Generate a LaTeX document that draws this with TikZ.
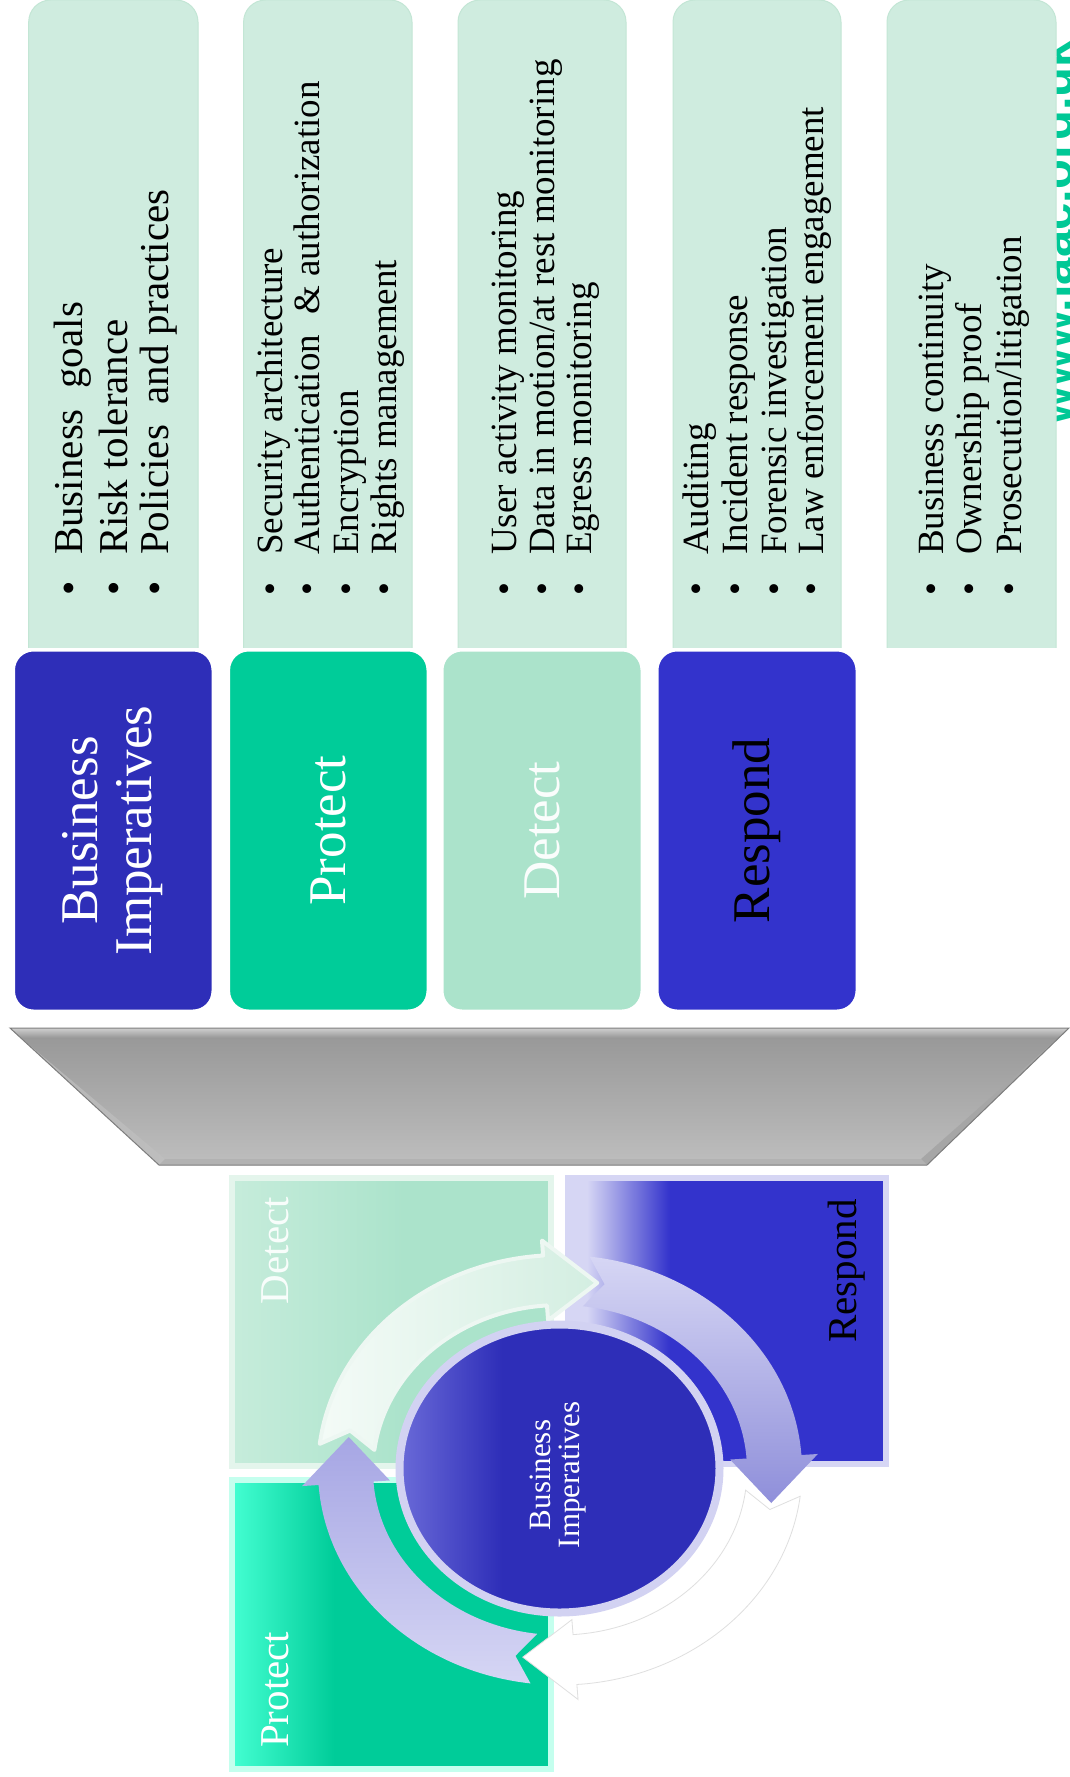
\documentclass[tikz,border=0pt]{standalone}
\usepackage{fontspec}
\setmainfont{Liberation Serif}
\newfontfamily\wmfont{Liberation Sans}
\usetikzlibrary{calc}

\definecolor{mint}{HTML}{CFECDF}
\definecolor{mintedge}{HTML}{C3E6D5}
\definecolor{navy}{HTML}{2E2EB8}
\definecolor{royal}{HTML}{3333CC}
\definecolor{jade}{HTML}{00CC99}
\definecolor{seafoam}{HTML}{ABE3CB}
\definecolor{lav}{HTML}{D6D6F4}
\definecolor{lavdark}{HTML}{8F8FDA}
\definecolor{lavmid}{HTML}{A6A6E4}
\definecolor{wmteal}{HTML}{00C896}
\definecolor{detlight}{HTML}{C6ECDB}
\definecolor{detrim}{HTML}{E4F5EC}
\definecolor{protlight}{HTML}{44FFD2}
\definecolor{protrim}{HTML}{C4FFEE}
\definecolor{ellight}{HTML}{6A6AD8}
\definecolor{ellrim}{HTML}{D2D2F2}
\definecolor{paleA}{HTML}{F4FBF7}
\definecolor{paleB}{HTML}{D3EEE1}
\definecolor{palerim}{HTML}{EDF7F2}
\definecolor{funtop}{HTML}{969696}
\definecolor{funbot}{HTML}{BEBEBE}
\definecolor{funhi}{HTML}{CFCFCF}
\definecolor{funedge}{HTML}{7E7E7E}

\pgfdeclarehorizontalshading{detfade}{100bp}{color(0bp)=(detlight); color(25bp)=(detlight); color(52bp)=(seafoam); color(100bp)=(seafoam)}
\pgfdeclarehorizontalshading{respfade}{100bp}{color(0bp)=(lav); color(28bp)=(lav); color(41bp)=(royal); color(100bp)=(royal)}
\pgfdeclarehorizontalshading{protfade}{100bp}{color(0bp)=(protlight); color(25bp)=(protlight); color(41bp)=(jade); color(100bp)=(jade)}
\pgfdeclarehorizontalshading{ellfade}{100bp}{color(0bp)=(ellight); color(25bp)=(ellight); color(41bp)=(navy); color(100bp)=(navy)}

% one curved arrow of the ring: #1 = start angle (deg), #2 = style
\newcommand\ringarrow[2]{%
  \path[#2] ({560+242*cos(#1)},{1470-215*sin(#1)})
    arc[start angle={-(#1)}, end angle={79-(#1)}, x radius=242, y radius=215]
    -- ({560+258.5*cos(#1-79)},{1470-230*sin(#1-79)})
    -- ({560+214.5*cos(#1-93)},{1470-190*sin(#1-93)})
    -- ({560+170.5*cos(#1-79)},{1470-150*sin(#1-79)})
    -- ({560+187*cos(#1-79)},{1470-165*sin(#1-79)})
    arc[start angle={79-(#1)}, end angle={-(#1)}, x radius=187, y radius=165]
    -- ({560+214.5*cos(#1-5)},{1470-190*sin(#1-5)})
    -- cycle;}

\newcommand\bul{\makebox[41pt][l]{•}}

\begin{document}
\begin{tikzpicture}[x=1pt, y=-1pt,
  panel/.style={fill=mint, draw=mintedge, line width=1pt, rounded corners=22pt},
  tabbox/.style={draw=white, line width=3pt, rounded corners=20pt},
  tablabel/.style={rotate=90, inner sep=0pt, align=center, font=\fontsize{53}{54}\selectfont},
  item/.style={rotate=90, anchor=base west, inner sep=0pt, text=black},
  bigitem/.style={item, font=\fontsize{41}{44}\selectfont},
  smallitem/.style={item, font=\fontsize{37}{40}\selectfont},
  quadlabel/.style={rotate=90, inner sep=0pt, font=\fontsize{41}{44}\selectfont},
  quad/.style={line width=6pt},
]
\clip (0,0) rectangle (1070,1777);
\fill[white] (0,0) rectangle (1070,1777);

% web address, partly hidden behind the last panel
\node[rotate=90, anchor=base west, inner sep=0pt, text=wmteal,
      font=\wmfont\bfseries\fontsize{49}{50}\selectfont] (site) at (1072,425) {www.iaac.org.uk};

% description panels
\begin{scope}
  \clip (0,-10) rectangle (1070,647);
  \path[panel] (28.7,0) rectangle (198,700);
  \path[panel] (243.6,0) rectangle (412,700);
  \path[panel] (458,0) rectangle (626,700);
  \path[panel] (673,0) rectangle (841,700);
  \path[panel] (887,0) rectangle (1056,700);
\end{scope}

% panel texts
\node[bigitem] (bi1) at (82,596) {\bul Business\hspace{.25em} goals};
\node[bigitem] (bi2) at (127,596) {\bul Risk tolerance};
\node[bigitem] (bi3) at (168,596) {\bul Policies\hspace{.25em} and practices};

\node[smallitem] (pr1) at (282,596) {\bul Security architecture};
\node[smallitem] (pr2) at (319,596) {\bul Authentication\hspace{.3em} \& authorization};
\node[smallitem] (pr3) at (358,596) {\bul Encryption};
\node[smallitem] (pr4) at (396,596) {\bul Rights management};

\node[smallitem] (de1) at (516,596) {\bul User activity monitoring};
\node[smallitem] (de2) at (554,596) {\bul Data in motion/at rest monitoring};
\node[smallitem] (de3) at (591,596) {\bul Egress monitoring};

\node[smallitem] (re1) at (708,596) {\bul Auditing};
\node[smallitem] (re2) at (747,596) {\bul Incident response};
\node[smallitem] (re3) at (786,596) {\bul Forensic investigation};
\node[smallitem] (re4) at (823,596) {\bul Law enforcement engagement};

\node[smallitem] (ou1) at (943,596) {\bul Business continuity};
\node[smallitem] (ou2) at (981,596) {\bul Ownership proof};
\node[smallitem] (ou3) at (1021,596) {\bul Prosecution/litigation};

% heading tabs
\path[tabbox, fill=navy]    (13.5,650) rectangle (213,1011);
\path[tabbox, fill=jade]    (228.6,650) rectangle (428,1011);
\path[tabbox, fill=seafoam] (442,650) rectangle (642,1011);
\path[tabbox, fill=royal]   (657,650) rectangle (857,1011);

\node[tablabel, text=white] (tab-bi) at (113,830.5) {Business\\Imperatives};
\node[tablabel, text=white] (tab-pr) at (328,830.5) {Protect};
\node[tablabel, text=white!94!seafoam] (tab-de) at (542,830.5) {Detect};
\node[tablabel, text=black] (tab-re) at (757,830.5) {Respond};

% funnel
\coordinate (fTL) at (10,1028);
\coordinate (fTR) at (1069,1028);
\coordinate (fBR) at (927,1165);
\coordinate (fBL) at (159,1165);
\path[top color=funtop, bottom color=funbot]
  (fTL) -- (fTR) -- (fBR) -- (fBL) -- cycle;
\path[top color=funhi, bottom color=funtop] (fTL) -- (fTR) -- (1058,1038) -- (21,1038) -- cycle;
\path[left color=gray!60, right color=funbot] (fTL) -- (21,1038) -- (165,1159) -- (fBL) -- cycle;
\path[fill=gray!70] (fTR) -- (1058,1038) -- (921,1159) -- (fBR) -- cycle;
\path[fill=gray!60] (fBL) -- (165,1159) -- (921,1159) -- (fBR) -- cycle;
\draw[funedge, line width=1pt] (fTL) -- (fTR) -- (fBR) -- (fBL) -- cycle;

% cycle quadrants
\path[quad, draw=detrim, shading=detfade] (231.5,1178) rectangle (551,1466);
\path[quad, draw=lav, shading=respfade] (568,1178) rectangle (886,1464);
\path[quad, draw=protrim, shading=protfade] (232,1480) rectangle (551,1769);

% ring of arrows
\ringarrow{173}{left color=paleA, right color=paleB, draw=palerim, line width=4pt, line join=round}
\ringarrow{83}{top color=lav, middle color=lav!95!lavdark, bottom color=lavdark}
\ringarrow{-7}{fill=white, draw=gray!25, line width=0.8pt}
\ringarrow{-97}{top color=lavmid, middle color=lav!92!lavmid, bottom color=lav}

% centre
\path[shading=ellfade, draw=ellrim, line width=8pt] (559.5,1468.5) ellipse[x radius=160, y radius=144];
\node[rotate=90, inner sep=0pt, align=center, text=white, font=\fontsize{31}{29}\selectfont] (core) at (558,1475) {Business\\Imperatives};

% quadrant labels
\node[quadlabel, anchor=base east, text=white!92!seafoam] (q-de) at (288,1197) {Detect};
\node[quadlabel, anchor=base east, text=black] (q-re) at (856,1199) {Respond};
\node[quadlabel, anchor=base west, text=white] (q-pr) at (288,1748) {Protect};
\end{tikzpicture}
\end{document}
